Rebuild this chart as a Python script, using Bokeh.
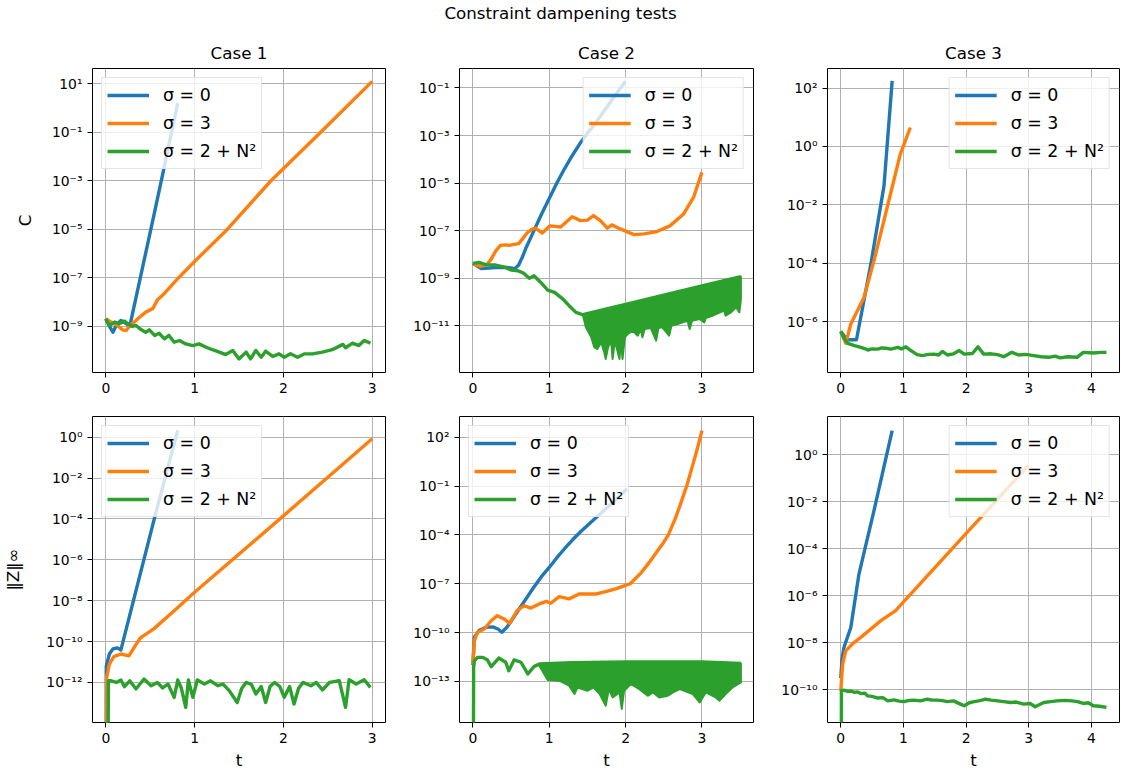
from bokeh.plotting import figure
from bokeh.models import (Range1d, FixedTicker, CustomJSTickFormatter, Legend,
                          LegendItem, ColumnDataSource)
from bokeh.layouts import column, row
from bokeh.embed import file_html
from bokeh.resources import INLINE

# ------------------------------------------------------------------
# Texts
# ------------------------------------------------------------------
suptitle = "Constraint dampening tests"
series_labels = ["σ = 0", "σ = 3", "σ = 2 + N²"]
case_titles = ["Case 1", "Case 2", "Case 3"]
row_ylabels = ["C", "‖Z‖∞"]
x_label = "t"

# ------------------------------------------------------------------
# Data: time t and log10 of the plotted value
# (-30 stands for a zero value at t = 0, drawn below the axis)
# ------------------------------------------------------------------
# Case 1, C
c1C_s0_t = [0, 0.04, 0.08, 0.12, 0.17, 0.22, 0.27, 0.39, 0.54, 0.66, 0.81]
c1C_s0 = [-8.69, -9.0, -9.25, -8.95, -8.76, -8.87, -9.0, -6.98, -4.45, -2.4, 0.2]
c1C_s3_t = [0, 0.06, 0.13, 0.19, 0.23, 0.27, 0.32, 0.38, 0.45, 0.53, 0.58, 0.66, 0.82, 1.0, 1.37, 1.86, 2.42, 3.0]
c1C_s3 = [-8.69, -8.83, -8.97, -9.15, -9.18, -8.97, -8.83, -8.63, -8.42, -8.27, -7.92, -7.65, -7.0, -6.33, -5.0, -3.0, -1.0, 1.1]
c1C_sN_t = [0, 0.04, 0.10, 0.15, 0.21, 0.25, 0.30, 0.34, 0.40, 0.45,
            0.49, 0.55, 0.60, 0.66, 0.71, 0.77, 0.83, 0.90, 0.98, 1.05,
            1.13, 1.20, 1.28, 1.35, 1.43, 1.50, 1.58, 1.63, 1.69, 1.75,
            1.80, 1.88, 1.95, 2.01, 2.08, 2.16, 2.24, 2.33, 2.44, 2.55,
            2.67, 2.70, 2.78, 2.85, 2.91, 2.98]
c1C_sN = [-8.69, -8.97, -8.83, -8.90, -8.79, -8.90, -9.01, -8.97, -9.15, -9.25,
          -9.15, -9.38, -9.29, -9.52, -9.38, -9.66, -9.59, -9.73, -9.80, -9.73,
          -9.87, -9.97, -10.07, -10.17, -10.0, -10.35, -10.07, -10.35, -10.0, -10.28,
          -10.03, -10.25, -10.14, -10.28, -10.14, -10.28, -10.14, -10.14, -10.07, -9.97,
          -9.75, -9.89, -9.70, -9.80, -9.59, -9.70]

# Case 1, ||Z||
c1Z_s0_t = [0, 0.005, 0.04, 0.08, 0.13, 0.17, 0.54, 0.81]
c1Z_s0 = [-30, -11.2, -10.61, -10.36, -10.31, -10.41, -4.1, 0.33]
c1Z_s3_t = [0, 0.01, 0.04, 0.09, 0.17, 0.26, 0.32, 0.39, 0.54, 0.77, 1.0, 2.0, 3.0]
c1Z_s3 = [-30, -11.75, -11.1, -10.74, -10.61, -10.7, -10.28, -9.82, -9.38, -8.49, -7.59, -3.85, -0.08]
c1Z_sN_t = [0, 0.03, 0.06, 0.12, 0.17, 0.21, 0.27, 0.34, 0.43, 0.51,
            0.58, 0.64, 0.70, 0.77, 0.81, 0.85, 0.90, 0.93, 0.98, 1.03,
            1.11, 1.18, 1.26, 1.32, 1.39, 1.48, 1.53, 1.58, 1.64, 1.69,
            1.75, 1.80, 1.85, 1.90, 1.96, 2.01, 2.07, 2.12, 2.17, 2.22,
            2.31, 2.37, 2.44, 2.52, 2.63, 2.70, 2.74, 2.82, 2.91, 2.98]
c1Z_sN = [-30, -11.92, -11.92, -12.0, -11.88, -12.21, -11.92, -12.32, -11.83, -12.16,
          -12.0, -12.27, -12.08, -12.73, -11.88, -12.27, -13.22, -11.88, -12.73, -11.88,
          -12.08, -11.92, -12.16, -12.08, -12.40, -12.98, -12.3, -12.0, -12.1, -12.57,
          -12.2, -12.98, -12.2, -12.0, -12.2, -12.73, -12.2, -13.06, -12.3, -12.0,
          -12.16, -12.0, -12.37, -12.0, -11.92, -13.22, -11.87, -12.08, -11.87, -12.24]

# Case 2, C
c2C_s0_t = [0, 0.11, 0.3, 0.45, 0.55, 0.6, 0.65, 0.7, 0.8, 0.9,
            1.0, 1.1, 1.2, 1.3, 1.4, 1.5, 1.6, 1.7, 1.8, 1.9, 2.0]
c2C_s0 = [-8.38, -8.6, -8.55, -8.55, -8.6, -8.45, -8.1, -7.7, -7.0, -6.3,
          -5.65, -5.0, -4.4, -3.85, -3.35, -2.9, -2.5, -2.05, -1.6, -1.15, -0.72]
c2C_s3_t = [0, 0.09, 0.18, 0.24, 0.3, 0.36, 0.42, 0.48, 0.54, 0.6,
            0.65, 0.71, 0.77, 0.82, 0.91, 1.01, 1.15, 1.3, 1.41, 1.5,
            1.58, 1.67, 1.76, 1.82, 1.93, 2.11, 2.24, 2.41, 2.58, 2.76, 2.89, 3.0]
c2C_s3 = [-8.4, -8.5, -8.45, -8.2, -7.85, -7.62, -7.6, -7.62, -7.58, -7.55,
          -7.35, -7.1, -6.95, -6.9, -7.1, -6.8, -6.85, -6.42, -6.58, -6.56,
          -6.37, -6.58, -6.9, -6.76, -6.93, -7.17, -7.14, -7.04, -6.8, -6.3, -5.6, -4.55]
c2C_sN_t = [0, 0.08, 0.17, 0.3, 0.43, 0.5, 0.59, 0.67, 0.74, 0.8, 0.89, 0.98, 1.07, 1.18, 1.26, 1.35, 1.44]
c2C_sN = [-8.38, -8.34, -8.43, -8.45, -8.55, -8.66, -8.69, -8.8, -9.01, -8.9, -9.18, -9.5, -9.6, -9.88, -10.16, -10.44, -10.54]
# fast oscillation of sigma = 2 + N^2: upper envelope and jagged lower edge
c2C_band_top_t = [1.44, 2.0, 3.0, 3.51]
c2C_band_top = [-10.54, -10.11, -9.33, -8.94]
c2C_band_low_t = [1.44, 1.48, 1.55, 1.59, 1.63, 1.68, 1.72, 1.74, 1.77, 1.81,
                  1.83, 1.86, 1.92, 1.94, 1.96, 1.99, 2.03, 2.09, 2.16, 2.2,
                  2.22, 2.25, 2.33, 2.4, 2.43, 2.48, 2.57, 2.6, 2.68, 2.81,
                  2.84, 2.87, 2.97, 3.03, 3.05, 3.14, 3.29, 3.31, 3.38, 3.45, 3.49, 3.51]
c2C_band_low = [-10.54, -11.07, -11.49, -11.91, -11.98, -11.70, -12.12, -12.40, -11.91, -11.63,
                -12.40, -11.63, -12.40, -11.63, -12.40, -11.49, -11.35, -11.21, -11.42, -11.14,
                -11.49, -11.14, -11.10, -11.63, -11.10, -11.07, -11.42, -11.0, -10.93, -10.79,
                -11.14, -10.79, -10.72, -10.86, -10.68, -10.58, -10.37, -10.58, -10.44, -10.23, -10.44, -9.88]

# Case 2, ||Z||
c2Z_s0_t = [0, 0.02, 0.08, 0.17, 0.26, 0.33, 0.38, 0.45, 0.5, 0.6,
            0.7, 0.8, 0.9, 1.0, 1.1, 1.2, 1.3, 1.4, 1.5, 1.6,
            1.7, 1.8, 1.9, 2.02]
c2Z_s0 = [-12.0, -10.29, -9.88, -9.68, -9.65, -9.78, -9.98, -9.65, -9.3, -8.6,
          -7.9, -7.2, -6.55, -6.0, -5.4, -4.85, -4.33, -3.85, -3.42, -3.0,
          -2.58, -2.15, -1.7, -1.17]
c2Z_s3_t = [0, 0.02, 0.06, 0.15, 0.24, 0.32, 0.41, 0.48, 0.58, 0.67,
            0.76, 0.87, 0.96, 1.02, 1.13, 1.26, 1.39, 1.5, 1.61, 1.7,
            1.87, 2.0, 2.06, 2.2, 2.3, 2.4, 2.5, 2.56, 2.65, 2.72,
            2.8, 2.88, 2.94, 3.0]
c2Z_s3 = [-11.93, -10.5, -9.98, -9.78, -9.27, -8.96, -9.16, -9.43, -8.65, -8.35,
          -8.49, -8.24, -8.08, -8.2, -7.79, -7.93, -7.63, -7.63, -7.63, -7.53,
          -7.32, -7.1, -7.0, -6.35, -5.75, -5.1, -4.45, -4.0, -3.0, -2.1,
          -1.0, 0.3, 1.3, 2.4]
c2Z_sN_t = [0, 0.01, 0.02, 0.06, 0.13, 0.19, 0.24, 0.34, 0.43, 0.47, 0.54, 0.63, 0.72, 0.8, 0.87]
c2Z_sN = [-30, -12.14, -11.73, -11.52, -11.52, -11.68, -12.09, -11.56, -11.82, -12.34, -11.68, -11.82, -12.54, -12.09, -11.93]
c2Z_band_top_t = [0.87, 1.3, 2.0, 3.0, 3.51]
c2Z_band_top = [-11.93, -11.85, -11.8, -11.8, -11.9]
c2Z_band_low_t = [0.87, 0.98, 1.13, 1.26, 1.33, 1.37, 1.5, 1.58, 1.66, 1.74,
                  1.78, 1.83, 1.92, 1.95, 1.98, 2.07, 2.18, 2.29, 2.36, 2.44,
                  2.55, 2.62, 2.71, 2.88, 2.97, 3.05, 3.18, 3.23, 3.31, 3.4, 3.51]
c2Z_band_low = [-12.03, -12.91, -12.95, -13.26, -13.77, -13.37, -13.57, -13.37, -13.77, -14.49,
                -13.47, -13.98, -13.67, -14.69, -13.57, -13.16, -13.47, -13.88, -13.67, -13.98,
                -13.88, -13.67, -13.47, -13.77, -14.29, -13.67, -13.98, -14.18, -13.77, -13.37, -13.06]

# Case 3, C
c3C_s0_t = [0, 0.1, 0.25, 0.48, 0.69, 0.82]
c3C_s0 = [-6.34, -6.62, -6.62, -4.03, -1.34, 2.25]
c3C_s3_t = [0, 0.08, 0.16, 0.37, 0.53, 0.74, 0.95, 1.11]
c3C_s3 = [-6.34, -6.74, -6.08, -5.17, -3.91, -2.09, -0.26, 0.65]
c3C_sN_t = [0, 0.06, 0.11, 0.22, 0.32, 0.38, 0.43, 0.5, 0.59, 0.65,
            0.72, 0.8, 0.91, 0.97, 1.04, 1.12, 1.22, 1.30, 1.4, 1.49,
            1.56, 1.62, 1.70, 1.8, 1.89, 1.97, 2.10, 2.19, 2.28, 2.4,
            2.50, 2.60, 2.73, 2.84, 2.95, 3.08, 3.2, 3.32, 3.42, 3.50,
            3.62, 3.77, 3.87, 4.03, 4.15, 4.24]
c3C_sN = [-6.33, -6.59, -6.74, -6.82, -6.88, -6.92, -6.97, -6.93, -6.94, -6.9,
          -6.91, -6.94, -6.88, -6.93, -6.86, -6.99, -7.13, -7.16, -7.12, -7.11,
          -7.14, -7.02, -7.14, -7.1, -6.99, -7.11, -7.09, -6.86, -7.11, -7.1,
          -7.13, -7.2, -7.05, -7.14, -7.12, -7.16, -7.2, -7.22, -7.18, -7.24,
          -7.2, -7.22, -7.05, -7.07, -7.05, -7.05]

# Case 3, ||Z||
c3Z_s0_t = [0, 0.02, 0.05, 0.16, 0.29, 0.53, 0.82]
c3Z_s0 = [-9.5, -8.7, -8.2, -7.35, -5.08, -2.38, 1.02]
c3Z_s3_t = [0, 0.03, 0.08, 0.21, 0.32, 0.64, 0.87, 2.99]
c3Z_s3 = [-10.04, -8.91, -8.34, -7.99, -7.77, -7.06, -6.64, -0.47]
c3Z_sN_t = [0, 0.01, 0.06, 0.11, 0.16, 0.22, 0.27, 0.32, 0.38, 0.43,
            0.5, 0.59, 0.67, 0.75, 0.85, 0.93, 1.01, 1.09, 1.17, 1.27,
            1.38, 1.46, 1.54, 1.62, 1.70, 1.80, 1.91, 1.97, 2.05, 2.13,
            2.22, 2.31, 2.40, 2.50, 2.60, 2.71, 2.80, 2.92, 3.02, 3.10,
            3.24, 3.35, 3.45, 3.57, 3.69, 3.78, 3.87, 3.95, 4.03, 4.13, 4.24]
c3Z_sN = [-30, -10.04, -10.02, -10.07, -10.05, -10.11, -10.09, -10.16, -10.14, -10.26,
          -10.28, -10.35, -10.33, -10.47, -10.43, -10.48, -10.50, -10.45, -10.44, -10.47,
          -10.40, -10.44, -10.44, -10.46, -10.50, -10.47, -10.61, -10.68, -10.55, -10.50,
          -10.46, -10.40, -10.44, -10.47, -10.50, -10.54, -10.52, -10.61, -10.58, -10.72,
          -10.54, -10.50, -10.47, -10.45, -10.47, -10.50, -10.58, -10.55, -10.68, -10.70, -10.75]

# Axis ticks
x_ticks_c12 = [0, 1, 2, 3]
x_ticks_c3 = [0, 1, 2, 3, 4]
y_ticks_c1C = [1e1, 1e-1, 1e-3, 1e-5, 1e-7, 1e-9]
y_ticks_c2C = [1e-1, 1e-3, 1e-5, 1e-7, 1e-9, 1e-11]
y_ticks_c3C = [1e2, 1e0, 1e-2, 1e-4, 1e-6]
y_ticks_c1Z = [1e0, 1e-2, 1e-4, 1e-6, 1e-8, 1e-10, 1e-12]
y_ticks_c2Z = [1e2, 1e-1, 1e-4, 1e-7, 1e-10, 1e-13]
y_ticks_c3Z = [1e0, 1e-2, 1e-4, 1e-6, 1e-8, 1e-10]

# ------------------------------------------------------------------
# Style
# ------------------------------------------------------------------
FONT = "DejaVu Sans"
COLORS = ["#1f77b4", "#ff7f0e", "#2ca02c"]
LW = 3.4
TICK_FS = "13.9px"
BIG_FS = "16.7px"
LEG_FS = "17.4px"

SUP_JS = """
const sup = {"-": "\u207b", "0": "\u2070", "1": "\u00b9", "2": "\u00b2", "3": "\u00b3",
             "4": "\u2074", "5": "\u2075", "6": "\u2076", "7": "\u2077", "8": "\u2078", "9": "\u2079"};
const e = Math.round(Math.log10(tick));
return "10" + String(e).split("").map(c => sup[c]).join("");
"""


def exp10(values):
    return [10.0 ** v for v in values]


def make_panel(series, band, xr, yr, xticks, yticks, title, ylabel, xlabel,
               legend_loc, frame_w, frame_h, borders, ylabel_standoff=18):
    bl, br, bt, bb = borders
    p = figure(frame_width=frame_w, frame_height=frame_h, y_axis_type="log",
               x_range=Range1d(xr[0], xr[1]),
               y_range=Range1d(10.0 ** yr[0], 10.0 ** yr[1]),
               output_backend="svg", toolbar_location=None,
               min_border_left=bl, min_border_right=br,
               min_border_top=bt, min_border_bottom=bb, title=title)
    p.background_fill_color = "white"
    p.border_fill_color = "white"
    p.outline_line_color = "black"
    p.outline_line_width = 1
    p.outline_line_alpha = 1.0

    if title is not None:
        p.title.align = "center"
        p.title.text_font = FONT
        p.title.text_font_size = BIG_FS
        p.title.text_font_style = "normal"
        p.title.text_color = "black"
        p.title.standoff = 12

    xt = FixedTicker(ticks=xticks, minor_ticks=[])
    yt = FixedTicker(ticks=yticks, minor_ticks=[])
    p.xaxis.ticker = xt
    p.yaxis.ticker = yt
    p.xgrid.ticker = xt
    p.ygrid.ticker = yt
    p.yaxis.formatter = CustomJSTickFormatter(code=SUP_JS)
    for ax in (p.xaxis[0], p.yaxis[0]):
        ax.axis_line_color = None
        ax.major_tick_line_color = "black"
        ax.major_tick_line_width = 1
        ax.major_tick_out = 5
        ax.major_tick_in = 0
        ax.minor_tick_line_color = None
        ax.major_label_text_font = FONT
        ax.major_label_text_font_size = TICK_FS
        ax.major_label_text_color = "black"
        ax.major_label_standoff = 5
        ax.axis_label_text_font = FONT
        ax.axis_label_text_font_size = BIG_FS
        ax.axis_label_text_font_style = "normal"
        ax.axis_label_text_color = "black"
    if ylabel:
        p.yaxis.axis_label = ylabel
        p.yaxis.axis_label_standoff = ylabel_standoff
    if xlabel:
        p.xaxis.axis_label = xlabel
        p.xaxis.axis_label_standoff = 4
    for g in (p.xgrid[0], p.ygrid[0]):
        g.grid_line_color = "#b0b0b0"
        g.grid_line_width = 1

    renderers = []
    for (t, v), color in zip(series, COLORS):
        src = ColumnDataSource(dict(t=t, v=exp10(v)))
        r = p.line("t", "v", source=src, line_color=color, line_width=LW, line_join="round")
        renderers.append(r)
    if band is not None:
        (top_t, top_v), (low_t, low_v) = band
        xs = list(top_t) + list(low_t)[::-1]
        ys = exp10(top_v) + exp10(low_v)[::-1]
        p.patch(xs, ys, fill_color=COLORS[2], fill_alpha=1.0,
                line_color=COLORS[2], line_width=2, line_join="round")

    legend = Legend(items=[LegendItem(label=lab, renderers=[r])
                           for lab, r in zip(series_labels, renderers)],
                    location=legend_loc)
    legend.label_text_font = FONT
    legend.label_text_font_size = LEG_FS
    legend.label_text_color = "black"
    legend.glyph_width = 42
    legend.glyph_height = 24
    legend.label_height = 24
    legend.spacing = 4
    legend.padding = 5
    legend.margin = 9
    legend.label_standoff = 14
    legend.border_line_color = "#cccccc"
    legend.border_line_width = 1
    legend.background_fill_color = "white"
    legend.background_fill_alpha = 0.8
    p.add_layout(legend)
    return p


# Layout geometry (the page is drawn from its top-left corner)
FW = [293, 294, 292]
FH = [304, 306]
BX = [(92, 10), (64, 10), (64, 1)]
BY = [(42, 30), (14, 50)]
XR = [(-0.15, 3.15), (-0.175, 3.675), (-0.212, 4.448)]

panels = [
    # top row: C
    dict(series=[(c1C_s0_t, c1C_s0), (c1C_s3_t, c1C_s3), (c1C_sN_t, c1C_sN)], band=None,
         yr=(-10.91, 1.63), yticks=y_ticks_c1C, legend="top_left"),
    dict(series=[(c2C_s0_t, c2C_s0), (c2C_s3_t, c2C_s3),
                 (c2C_sN_t + c2C_band_top_t[1:], c2C_sN + c2C_band_top[1:])],
         band=((c2C_band_top_t, c2C_band_top), (c2C_band_low_t, c2C_band_low)),
         yr=(-12.97, -0.18), yticks=y_ticks_c2C, legend="top_right"),
    dict(series=[(c3C_s0_t, c3C_s0), (c3C_s3_t, c3C_s3), (c3C_sN_t, c3C_sN)], band=None,
         yr=(-7.74, 2.67), yticks=y_ticks_c3C, legend="top_right"),
    # bottom row: ||Z||
    dict(series=[(c1Z_s0_t, c1Z_s0), (c1Z_s3_t, c1Z_s3), (c1Z_sN_t, c1Z_sN)], band=None,
         yr=(-13.96, 1.01), yticks=y_ticks_c1Z, legend="top_left"),
    dict(series=[(c2Z_s0_t, c2Z_s0), (c2Z_s3_t, c2Z_s3),
                 (c2Z_sN_t + c2Z_band_top_t[1:], c2Z_sN + c2Z_band_top[1:])],
         band=((c2Z_band_top_t, c2Z_band_top), (c2Z_band_low_t, c2Z_band_low)),
         yr=(-15.52, 3.27), yticks=y_ticks_c2Z, legend="top_left"),
    dict(series=[(c3Z_s0_t, c3Z_s0), (c3Z_s3_t, c3Z_s3), (c3Z_sN_t, c3Z_sN)], band=None,
         yr=(-11.39, 1.62), yticks=y_ticks_c3Z, legend="top_right"),
]

figs = []
for i, spec in enumerate(panels):
    r, c = divmod(i, 3)
    figs.append(make_panel(
        series=spec["series"], band=spec["band"], xr=XR[c], yr=spec["yr"],
        xticks=x_ticks_c3 if c == 2 else x_ticks_c12, yticks=spec["yticks"],
        title=case_titles[c] if r == 0 else None,
        ylabel=row_ylabels[r] if c == 0 else None,
        xlabel=x_label if r == 1 else None,
        legend_loc=spec["legend"], frame_w=FW[c], frame_h=FH[r],
        borders=(BX[c][0], BX[c][1], BY[r][0], BY[r][1]),
        ylabel_standoff=14 if r == 0 else 20))

# Super title
p0 = figure(width=1120, height=26, toolbar_location=None, output_backend="svg",
            title=suptitle, x_axis_location=None, y_axis_location=None,
            min_border=0)
p0.outline_line_color = None
p0.grid.visible = False
p0.title.align = "center"
p0.title.text_font = FONT
p0.title.text_font_size = BIG_FS
p0.title.text_font_style = "normal"
p0.title.text_color = "black"
p0.title.standoff = 0

layout = column(p0, row(*figs[:3]), row(*figs[3:]))
open("out.html", "w").write(file_html(layout, INLINE))
